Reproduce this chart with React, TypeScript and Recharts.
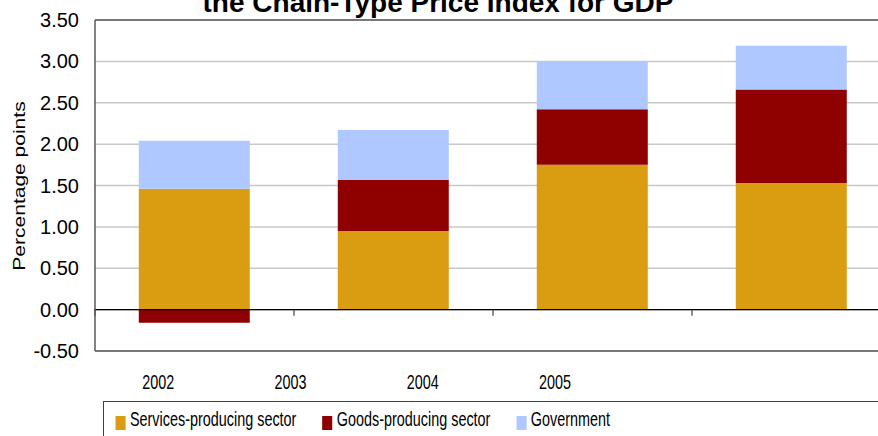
import { BarChart, Bar, XAxis, YAxis, CartesianGrid, ReferenceLine } from "recharts";

const years = ["2002", "2003", "2004", "2005"];
const services = [1.46, 0.95, 1.75, 1.53];
const goods = [-0.16, 0.62, 0.67, 1.13];
const government = [0.58, 0.6, 0.58, 0.53];
const yTicks = [-0.5, 0, 0.5, 1, 1.5, 2, 2.5, 3, 3.5];

const seriesList = [
  { key: "services", name: "Services-producing sector", color: "#DA9C10" },
  { key: "goods", name: "Goods-producing sector", color: "#8F0000" },
  { key: "government", name: "Government", color: "#AFC8FF" },
];

const data = years.map((year, i) => ({
  year,
  services: services[i],
  goods: goods[i],
  government: government[i],
}));

const font = "'Liberation Sans', Arial, sans-serif";

const YearTick = ({ x, y, payload }: any) => (
  <g transform={`translate(${x - 3},${y})`}>
    <text transform="scale(0.72,1)" textAnchor="middle" y={38} fontSize={20} fontFamily={font} fill="#000">
      {payload.value}
    </text>
  </g>
);

// zero axis with small tick marks between categories
const ZeroLine = (props: any) => {
  const { x1, y1, x2 } = props;
  const step = (x2 - x1) / years.length;
  return (
    <g>
      {years.map((_, i) => (
        <line key={i} x1={x1 + step * i} x2={x1 + step * i} y1={y1} y2={y1 + 6} stroke="#666" strokeWidth={1.5} />
      ))}
      <line x1={x1 - 1} y1={y1} x2={x2} y2={y1} stroke="#000" strokeWidth={1.2} />
    </g>
  );
};

export default function App() {
  return (
    <div style={{ position: "fixed", left: 0, top: 0, width: 878, height: 436, overflow: "hidden", background: "#fff", fontFamily: font }}>
      <div
        style={{
          position: "absolute",
          top: -13,
          left: 438,
          transform: "translateX(-50%)",
          whiteSpace: "nowrap",
          fontSize: 28,
          lineHeight: "32px",
          fontWeight: "bold",
          color: "#000",
        }}
      >
        the Chain-Type Price Index for GDP
      </div>

      <BarChart
        width={900}
        height={436}
        data={data}
        stackOffset="sign"
        barCategoryGap="22%"
        margin={{ top: 20, right: 9, bottom: 35, left: 0 }}
        style={{ position: "absolute", left: 0, top: 0 }}
      >
        <CartesianGrid xAxisId="bars" vertical={false} stroke="#c8c8c8" strokeWidth={1.5} />
        <XAxis xAxisId="bars" dataKey="year" hide height={0} />
        <XAxis
          xAxisId="labels"
          dataKey="year"
          height={50}
          axisLine={false}
          tickLine={false}
          tickSize={0}
          tickMargin={0}
          padding={{ left: 0, right: 267 }}
          tick={<YearTick />}
        />
        <YAxis
          width={95}
          domain={[-0.5, 3.5]}
          ticks={yTicks}
          interval={0}
          tickFormatter={(v: number) => v.toFixed(2)}
          tick={{ fill: "#000", fontSize: 20, fontFamily: font }}
          axisLine={{ stroke: "#595959", strokeWidth: 1.5 }}
          tickLine={false}
          tickSize={0}
          tickMargin={16}
        />
        <ReferenceLine xAxisId="bars" y={3.5} stroke="#595959" strokeWidth={1.5} ifOverflow="visible" />
        <ReferenceLine xAxisId="bars" y={-0.5} stroke="#595959" strokeWidth={1.5} ifOverflow="visible" />
        {seriesList.map((s) => (
          <Bar key={s.key} xAxisId="bars" dataKey={s.key} name={s.name} stackId="a" fill={s.color} isAnimationActive={false} />
        ))}
        <ReferenceLine xAxisId="bars" y={0} ifOverflow="visible" shape={<ZeroLine />} />
      </BarChart>

      <div
        style={{
          position: "absolute",
          left: 103,
          top: 401,
          width: 800,
          height: 60,
          border: "1px solid #404040",
          background: "#fff",
          boxSizing: "border-box",
        }}
      >
        <div
          style={{
            display: "flex",
            paddingLeft: 16,
            paddingTop: 7,
            transform: "scaleX(0.72)",
            transformOrigin: "left top",
            whiteSpace: "nowrap",
          }}
        >
          {seriesList.map((s) => (
            <div key={s.key} style={{ display: "flex", alignItems: "flex-start", marginRight: 36 }}>
              <span style={{ display: "inline-block", width: 14, height: 14, background: s.color, marginTop: 7, marginRight: 6 }} />
              <span style={{ fontSize: 20, lineHeight: "20px", color: "#000" }}>{s.name}</span>
            </div>
          ))}
        </div>
      </div>

      <div
        style={{
          position: "absolute",
          left: 19.5,
          top: 186,
          transform: "translate(-50%, -50%) rotate(-90deg) scale(1, 0.75)",
          whiteSpace: "nowrap",
          fontSize: 21,
          lineHeight: "24px",
          color: "#000",
        }}
      >
        Percentage points
      </div>
    </div>
  );
}
